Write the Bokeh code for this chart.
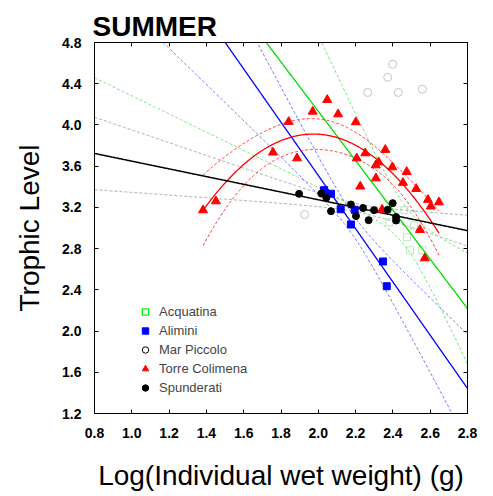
import math
import numpy as np
from bokeh.plotting import figure
from bokeh.models import (Range1d, FixedTicker, PrintfTickFormatter, LinearAxis,
                          Legend, LegendItem)
from bokeh.embed import file_html
from bokeh.resources import INLINE

FONT = "Liberation Sans"

# ---------------- data ----------------
# Acquatina (faint open squares)
acq_x = [2.461, 2.381, 2.513, 2.476, 2.492, 2.558]
acq_y = [3.173, 3.056, 3.024, 2.911, 2.784, 2.784]
# Alimini (blue squares)
ali_x = [2.031, 2.068, 2.120, 2.195, 2.175, 2.347, 2.367]
ali_y = [3.367, 3.332, 3.182, 3.177, 3.034, 2.675, 2.435]
# Mar Piccolo (faint open circles)
mar_x = [2.399, 2.372, 2.265, 2.429, 2.558, 1.927]
mar_y = [4.589, 4.463, 4.315, 4.315, 4.347, 3.131]
# Torre Colimena (red triangles)
tor_x = [2.048, 1.970, 2.106, 1.841, 2.201, 1.757, 1.886, 2.252, 2.359, 2.206,
         2.324, 2.308, 2.397, 2.474, 2.309, 2.454, 2.525, 2.588, 2.647, 2.603,
         2.225, 2.342, 1.451, 1.382, 2.545, 2.571]
tor_y = [4.244, 4.130, 4.104, 4.030, 4.027, 3.733, 3.677, 3.726, 3.759, 3.677,
         3.638, 3.609, 3.590, 3.545, 3.483, 3.439, 3.380, 3.274, 3.250, 3.209,
         3.403, 3.179, 3.260, 3.173, 2.982, 2.707]
# Spunderati (black dots)
spu_x = [1.897, 2.016, 2.043, 2.068, 2.175, 2.202, 2.240, 2.270, 2.299, 2.372,
         2.399, 2.417, 2.417]
spu_y = [3.332, 3.335, 3.293, 3.163, 3.228, 3.116, 3.194, 3.076, 3.173, 3.177,
         3.241, 3.107, 3.073]

# Acquatina regression (line + 95% band)
acq_fit_center_x = 2.47
acq_fit_center_y = 3.008
acq_fit_slope = -2.392
acq_fit_band_center = 0.195
acq_fit_band_slope = 1.519

x_ticks = [0.8, 1.0, 1.2, 1.4, 1.6, 1.8, 2.0, 2.2, 2.4, 2.6, 2.8]
y_ticks = [1.2, 1.6, 2.0, 2.4, 2.8, 3.2, 3.6, 4.0, 4.4, 4.8]

title_text = "SUMMER"
x_label = "Log(Individual wet weight) (g)"
y_label = "Trophic Level"
legend_labels = ["Acquatina", "Alimini", "Mar Piccolo", "Torre Colimena", "Spunderati"]


# ---------------- regression helpers ----------------
def t_quantile(p, df):
    grid = np.linspace(0.0, 80.0, 800001)
    c = math.gamma((df + 1) / 2) / (math.sqrt(df * math.pi) * math.gamma(df / 2))
    pdf = c * (1 + grid ** 2 / df) ** (-(df + 1) / 2)
    cdf = 0.5 + np.concatenate([[0.0], np.cumsum((pdf[1:] + pdf[:-1]) / 2 * np.diff(grid))])
    return float(np.interp(p, cdf, grid))


def poly_fit_band(x, y, deg, xs):
    x = np.asarray(x, float)
    y = np.asarray(y, float)
    n = len(x)
    X = np.column_stack([x ** k for k in range(deg + 1)])
    beta, *_ = np.linalg.lstsq(X, y, rcond=None)
    resid = y - X @ beta
    dof = n - (deg + 1)
    s2 = resid @ resid / dof
    cov = s2 * np.linalg.inv(X.T @ X)
    Xs = np.column_stack([xs ** k for k in range(deg + 1)])
    yh = Xs @ beta
    se = np.sqrt(np.einsum("ij,jk,ik->i", Xs, cov, Xs))
    t = t_quantile(0.975, dof)
    return yh, yh - t * se, yh + t * se


xs_full = np.linspace(0.8, 2.8, 400)
ali_fit, ali_lo, ali_hi = poly_fit_band(ali_x, ali_y, 1, xs_full)
spu_fit, spu_lo, spu_hi = poly_fit_band(spu_x, spu_y, 1, xs_full)
xs_tor = np.linspace(min(tor_x), max(tor_x), 300)
tor_fit, tor_lo, tor_hi = poly_fit_band(tor_x, tor_y, 2, xs_tor)
acq_fit = acq_fit_center_y + acq_fit_slope * (xs_full - acq_fit_center_x)
acq_w = np.sqrt(acq_fit_band_center ** 2 + (acq_fit_band_slope * (xs_full - acq_fit_center_x)) ** 2)
acq_lo, acq_hi = acq_fit - acq_w, acq_fit + acq_w

# ---------------- figure ----------------
p = figure(frame_width=373, frame_height=371,
           x_range=Range1d(0.8, 2.8), y_range=Range1d(1.2, 4.8),
           output_backend="svg", toolbar_location=None,
           min_border_left=94, min_border_top=42, min_border_right=12, min_border_bottom=60)
p.xgrid.visible = False
p.ygrid.visible = False
p.outline_line_color = "black"
p.outline_line_width = 1
p.background_fill_color = "white"
p.border_fill_color = "white"

p.title.text = title_text
p.title.text_font = FONT
p.title.text_font_style = "bold"
p.title.text_font_size = "28px"
p.title.align = "left"
p.title.offset = -2
p.title.standoff = 2
p.title.text_color = "black"


def style_axis(ax, ticks, show_labels=True):
    ax.ticker = FixedTicker(ticks=ticks)
    ax.formatter = PrintfTickFormatter(format="%.1f")
    ax.major_tick_in = 4
    ax.major_tick_out = 0
    ax.minor_tick_line_color = None
    ax.major_tick_line_color = "black"
    ax.axis_line_color = "black"
    ax.major_label_text_font = FONT
    ax.major_label_text_font_style = "bold"
    if show_labels:
        ax.major_label_text_font_size = "14px"
        ax.major_label_text_color = "black"
    else:
        ax.major_label_text_font_size = "1px"
        ax.major_label_text_color = None
        ax.major_label_standoff = 0


style_axis(p.xaxis[0], x_ticks)
style_axis(p.yaxis[0], y_ticks)
p.xaxis[0].major_label_standoff = 14
p.yaxis[0].major_label_standoff = 13
p.xaxis[0].axis_label = x_label
p.yaxis[0].axis_label = y_label
for ax in (p.xaxis[0], p.yaxis[0]):
    ax.axis_label_text_font = FONT
    ax.axis_label_text_font_style = "normal"
    ax.axis_label_text_font_size = "28px"
    ax.axis_label_text_color = "black"
p.xaxis[0].axis_label_standoff = 19
p.yaxis[0].axis_label_standoff = 14

top_ax = LinearAxis()
style_axis(top_ax, x_ticks, show_labels=False)
p.add_layout(top_ax, "above")
right_ax = LinearAxis()
style_axis(right_ax, y_ticks, show_labels=False)
p.add_layout(right_ax, "right")

# faint points (below lines)
p.scatter(acq_x, acq_y, marker="square", size=7, fill_color=None,
          line_color="#b8e8b8", line_width=1)
p.scatter(mar_x, mar_y, marker="circle", size=8, fill_color=None,
          line_color="#c4c4c4", line_width=1)

DASH = "3 2"
# Spunderati band
p.line(xs_full, spu_lo, line_color="#a8a8a8", line_width=1, line_dash=DASH)
p.line(xs_full, spu_hi, line_color="#a8a8a8", line_width=1, line_dash=DASH)
# Acquatina
p.line(xs_full, acq_lo, line_color="#6ee66e", line_width=1, line_dash=DASH)
p.line(xs_full, acq_hi, line_color="#6ee66e", line_width=1, line_dash=DASH)
p.line(xs_full, acq_fit, line_color="#00dd00", line_width=1.3)
# Alimini
p.line(xs_full, ali_lo, line_color="#7070ff", line_width=1, line_dash=DASH)
p.line(xs_full, ali_hi, line_color="#7070ff", line_width=1, line_dash=DASH)
p.line(xs_full, ali_fit, line_color="#0000ff", line_width=1.3)
# Torre Colimena
p.line(xs_tor, tor_lo, line_color="#ff3030", line_width=1, line_dash=DASH)
p.line(xs_tor, tor_hi, line_color="#ff3030", line_width=1, line_dash=DASH)
p.line(xs_tor, tor_fit, line_color="#ff0000", line_width=1.3)
# Spunderati line
p.line(xs_full, spu_fit, line_color="black", line_width=1.5)

# solid points
p.scatter(tor_x, tor_y, marker="triangle", size=9, fill_color="#ff0000", line_color="#ff0000")
p.scatter(ali_x, ali_y, marker="square", size=7, fill_color="#0000ff", line_color="#0000ff")
p.scatter(spu_x, spu_y, marker="circle", size=7, fill_color="black", line_color="black")

# legend-only renderers (one point placed outside the visible ranges)
off_x, off_y = [-10.0], [-10.0]
lg_acq = p.scatter(off_x, off_y, marker="square", fill_color=None, line_color="#00ee00", line_width=1.3)
lg_ali = p.scatter(off_x, off_y, marker="square", fill_color="#0000ff", line_color="#0000ff")
lg_mar = p.scatter(off_x, off_y, marker="circle", fill_color=None, line_color="black", line_width=1)
lg_tor = p.scatter(off_x, off_y, marker="triangle", fill_color="#ff0000", line_color="#ff0000")
lg_spu = p.scatter(off_x, off_y, marker="circle", fill_color="black", line_color="black")
legend = Legend(items=[LegendItem(label=lab, renderers=[r], index=0) for lab, r in
                       zip(legend_labels, [lg_acq, lg_ali, lg_mar, lg_tor, lg_spu])],
                location=(43, 16))
legend.border_line_color = None
legend.background_fill_alpha = 0
legend.padding = 0
legend.margin = 0
legend.spacing = 0
legend.glyph_width = 16
legend.glyph_height = 19
legend.label_height = 19
legend.label_standoff = 6
legend.label_text_font = FONT
legend.label_text_font_size = "13px"
legend.label_text_baseline = "middle"
p.add_layout(legend)

open("out.html", "w").write(file_html(p, INLINE))
